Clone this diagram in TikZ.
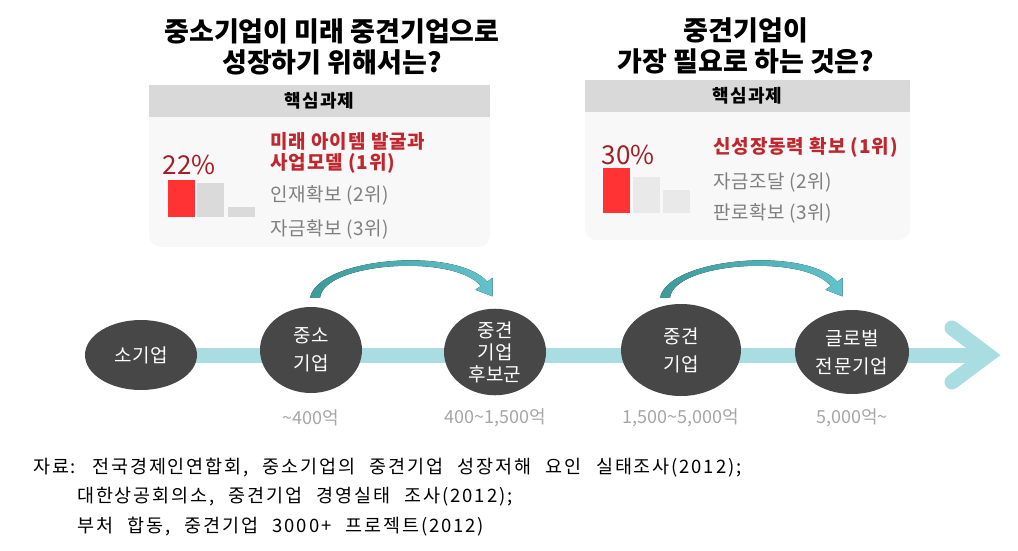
\documentclass[tikz,border=0pt]{standalone}
\usepackage{fontspec}
\setmainfont{Noto Sans CJK KR}
\newfontfamily\srcfont[LetterSpace=10, WordSpace=2.4]{Noto Sans CJK KR}
\usetikzlibrary{shapes.geometric, positioning, calc}

\definecolor{hdrgray}{HTML}{D9D9D9}
\definecolor{bodygray}{HTML}{F8F8F8}
\definecolor{topred}{HTML}{C0262D}
\definecolor{pctred}{HTML}{A31F24}
\definecolor{barred}{HTML}{FF3333}
\definecolor{bargray}{HTML}{DADADA}
\definecolor{txtgray}{HTML}{7F7F7F}
\definecolor{valgray}{HTML}{A6A6A6}
\definecolor{shaftcyan}{HTML}{A9DDE2}
\definecolor{stagegray}{HTML}{474747}
\definecolor{hopteal}{HTML}{3C9A98}
\definecolor{hopdark}{HTML}{5A5A5A}
\definecolor{hopcyan}{HTML}{62C3CC}

\tikzset{
  hop/.pic={
    \fill[left color=hopteal, middle color=hopdark, right color=hopcyan]
      (-5,0) .. controls (3,-40) and (140,-52) .. (172.3,-16.2)
      -- (177.5,-20) -- (177.7,-1.4) -- (160.5,-8) -- (165.7,-11.8)
      .. controls (140,-44) and (9,-36) .. (5,0) -- cycle;
  }
}

\begin{document}
\begin{tikzpicture}[x=1pt, y=-1pt,
    title/.style={font=\fontsize{27}{31}\selectfont\bfseries, align=center},
    panel/.style={rectangle, fill=bodygray, rounded corners=12pt, inner sep=0pt},
    hdr/.style={rectangle, fill=hdrgray, inner sep=0pt, font=\fontsize{18}{20}\selectfont\bfseries\addfontfeatures{LetterSpace=6}},
    pct/.style={font=\fontsize{26}{28}\selectfont, text=pctred, inner sep=0pt},
    bar/.style={rectangle, minimum width=27pt, inner sep=0pt, outer sep=0pt},
    toptxt/.style={anchor=west, inner sep=0pt, font=\fontsize{19}{22}\selectfont\bfseries\addfontfeatures{LetterSpace=5}, text=topred},
    item/.style={anchor=west, inner sep=0pt, font=\fontsize{19}{22}\selectfont\addfontfeatures{LetterSpace=3}, text=txtgray},
    stage/.style={ellipse, fill=stagegray, text=white, inner sep=0pt, align=center, font=\fontsize{19}{28}\selectfont\addfontfeatures{LetterSpace=4}},
    val/.style={font=\fontsize{18}{20}\selectfont, text=valgray},
    shaft/.style={draw=shaftcyan, line width=15pt},
    note/.style={anchor=west, inner sep=0pt, font=\srcfont\fontsize{18.5}{20}\selectfont}
  ]
  \useasboundingbox (0,0) rectangle (1018,550);

  % questions
  \node[title] (q1) at (332,47) {중소기업이 미래 중견기업으로\\성장하기 위해서는?};
  \node[title] (q2) at (746,46) {중견기업이\\가장 필요로 하는 것은?};

  % left panel
  \node[panel, minimum width=341pt, minimum height=162pt, anchor=north] (lbody) at (319.5,85) {};
  \node[hdr, minimum width=341pt, minimum height=32pt, anchor=north] (lhdr) at (lbody.north) {핵심과제};
  \node[pct] (lpct) at (189,165) {22\%};
  \node[bar, fill=barred, minimum height=37pt, anchor=south west] (lbar1) at (168,217) {};
  \node[bar, fill=bargray, minimum height=34pt, right=2pt of lbar1.south east, anchor=south west] (lbar2) {};
  \node[bar, fill=bargray, minimum height=10pt, right=4pt of lbar2.south east, anchor=south west] (lbar3) {};
  \node[toptxt] (ltop1) at (270,141) {미래 아이템 발굴과};
  \node[toptxt] (ltop2) at (270,163) {사업모델 (1위)};
  \node[item] (lsec) at (270,195) {인재확보 (2위)};
  \node[item] (lthird) at (270,229) {자금확보 (3위)};

  % right panel
  \node[panel, minimum width=325pt, minimum height=160pt, anchor=north] (rbody) at (747.5,80) {};
  \node[hdr, minimum width=325pt, minimum height=32pt, anchor=north] (rhdr) at (rbody.north) {핵심과제};
  \node[pct] (rpct) at (628,155) {30\%};
  \node[bar, fill=barred, minimum height=45pt, anchor=south west] (rbar1) at (603,213) {};
  \node[bar, fill=bargray!60, minimum height=36pt, right=3pt of rbar1.south east, anchor=south west] (rbar2) {};
  \node[bar, fill=bargray!60, minimum height=23pt, right=3pt of rbar2.south east, anchor=south west] (rbar3) {};
  \node[toptxt] (rtop) at (713,147) {신성장동력 확보 (1위)};
  \node[item] (rsec) at (713,182) {자금조달 (2위)};
  \node[item] (rthird) at (713,213) {판로확보 (3위)};

  % timeline
  \coordinate (tip) at (988,355);
  \coordinate (origin) at (141,355);
  \draw[shaft] (origin) -- (tip);
  \draw[shaft, line cap=round, line join=miter] ($(tip)+(-36,-27)$) -- (tip) -- ($(tip)+(-36,27)$);

  \node[stage, minimum width=112pt, minimum height=70pt] (small) at (origin) {소기업};
  \node[stage, minimum width=102pt, minimum height=86pt] (sme) at (311,350) {중소\\기업};
  \node[stage, minimum width=102pt, minimum height=86pt, font=\fontsize{19}{22}\selectfont] (cand) at (495,352) {중견\\기업\\후보군};
  \node[stage, minimum width=120pt, minimum height=92pt] (mid) at (681,350) {중견\\기업};
  \node[stage, minimum width=114pt, minimum height=84pt] (glob) at (852,352) {글로벌\\전문기업};

  \pic at ($(sme.north)+(4,-9)$) {hop};
  \pic at ($(mid.north)+(-16,-6)$) {hop};

  % sales ranges
  \node[val] (v1) at (sme |- 0,418) {\textasciitilde 400억};
  \node[val] (v2) at (cand |- 0,418) {400\textasciitilde 1,500억};
  \node[val] (v3) at (mid |- 0,418) {1,500\textasciitilde 5,000억};
  \node[val] (v4) at (glob |- 0,418) {5,000억\textasciitilde};

  % sources
  \node[note] (src1) at (33,468) {자료: 전국경제인연합회, 중소기업의 중견기업 성장저해 요인 실태조사(2012);};
  \node[note] (src2) at (77,497) {대한상공회의소, 중견기업 경영실태 조사(2012);};
  \node[note] (src3) at (77,527) {부처 합동, 중견기업 3000+ 프로젝트(2012)};
\end{tikzpicture}
\end{document}
